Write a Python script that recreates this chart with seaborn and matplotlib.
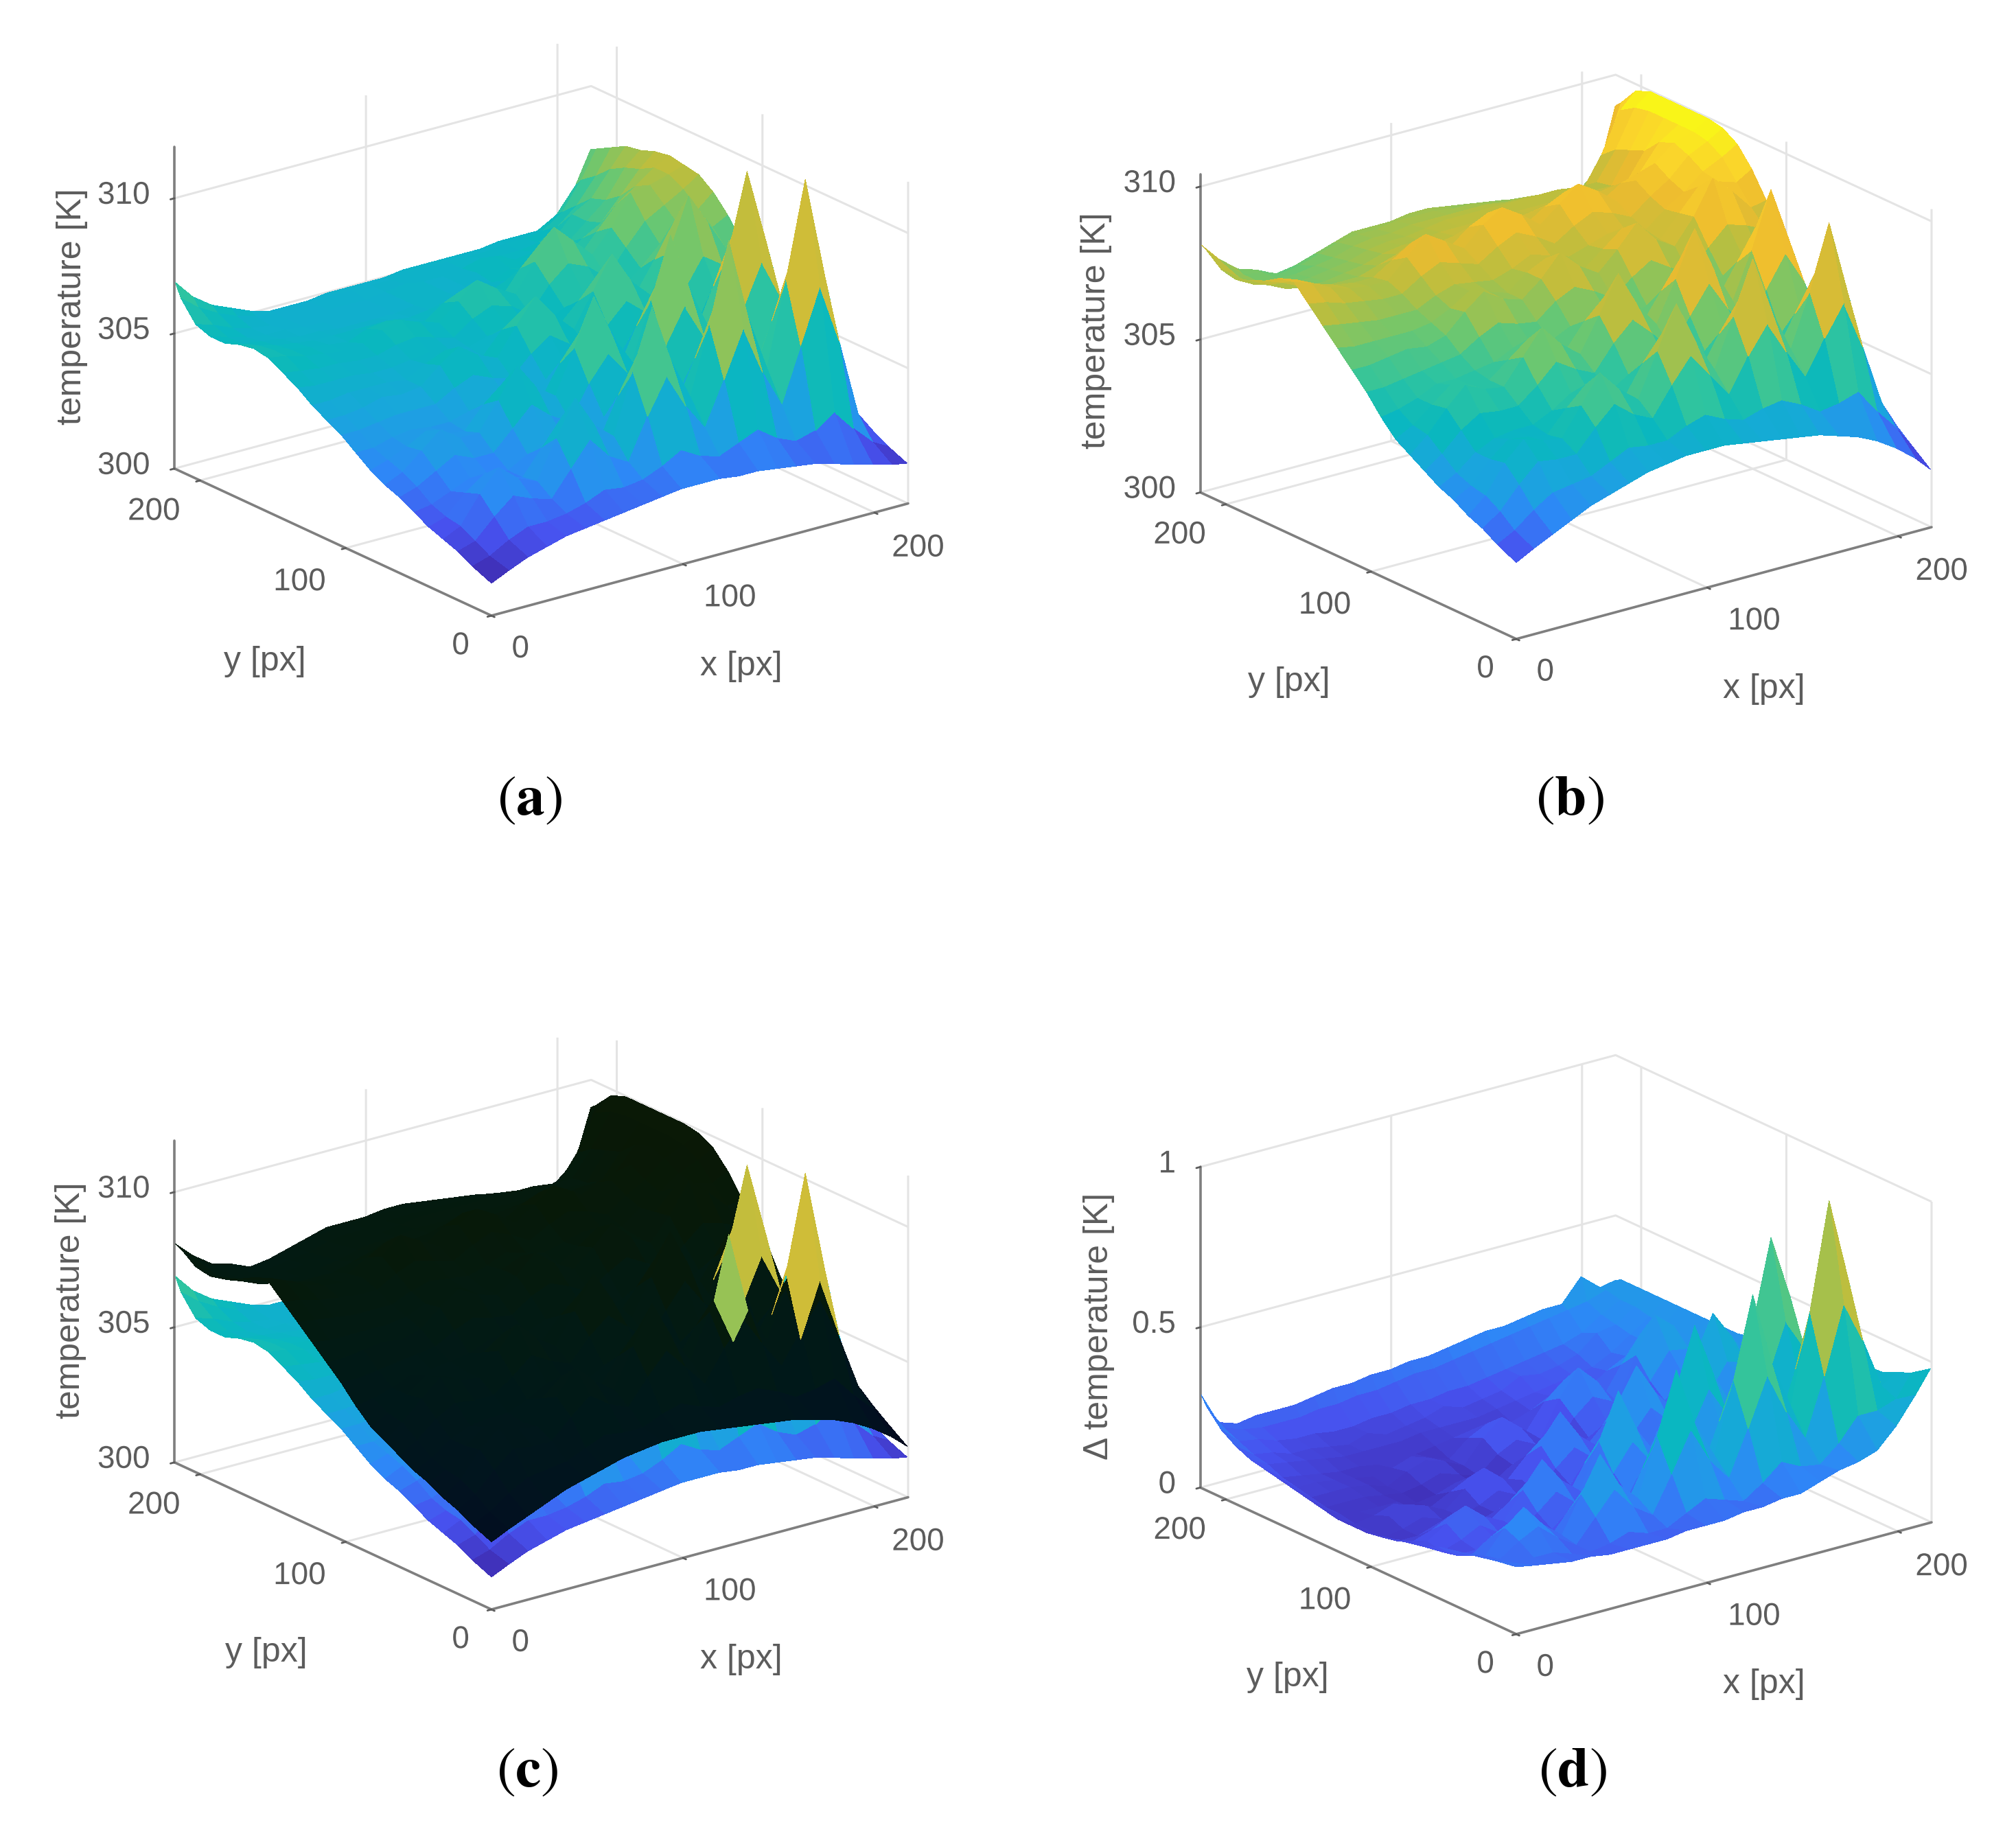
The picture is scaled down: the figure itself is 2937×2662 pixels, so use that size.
import numpy as np
import matplotlib
matplotlib.use("Agg")
import matplotlib.pyplot as plt
import matplotlib.patheffects as pe
from matplotlib.colors import Normalize
from mpl_toolkits.mplot3d import proj3d
import seaborn as sns

# grid nodes [px]
x_nodes = [0, 9, 19, 29, 39, 49, 59, 69, 79, 89, 99, 109, 119, 129, 139, 149, 159, 169, 179, 189, 199, 209, 217]
y_nodes = [0, 13, 23, 33, 43, 53, 63, 73, 83, 93, 103, 113, 123, 133, 143, 153, 163, 173, 183, 193, 203, 213, 217]

# panel (a): temperature above 300 K, in tenths of a kelvin, one row per y node
temp_a = [
    [12,15,18,20,22,23,24,25,26,27,28,28,28,27,27,26,25,24,22,20,18,16,15],
    [15,17,21,24,24,25,27,30,29,30,33,37,33,31,34,37,32,29,31,36,28,21,18],
    [18,20,27,33,30,28,37,46,38,34,49,62,49,39,55,72,54,40,60,80,58,29,21],
    [20,23,33,41,35,32,46,59,47,41,63,85,63,48,73,102,72,51,82,117,80,36,24],
    [22,24,31,36,33,31,40,49,41,37,52,65,52,42,58,75,58,44,64,84,63,35,28],
    [25,26,29,32,31,31,35,39,36,35,41,47,41,39,44,52,43,39,46,56,46,36,34],
    [28,30,34,38,35,35,42,49,43,39,51,60,51,42,57,70,57,46,63,79,64,43,38],
    [30,33,39,45,40,40,50,61,51,46,62,79,62,51,72,94,72,56,81,110,82,49,40],
    [33,35,38,42,39,38,46,52,46,42,54,63,54,45,60,73,60,50,67,84,70,51,47],
    [37,37,39,40,39,39,41,44,42,41,45,49,46,44,48,53,49,46,52,60,55,51,52],
    [41,41,42,43,43,43,47,50,47,45,52,57,52,48,55,62,56,50,60,71,66,60,62],
    [44,44,45,47,46,47,53,58,53,50,60,69,60,53,65,77,65,58,72,91,79,67,68],
    [47,47,48,48,48,47,51,54,51,48,56,61,56,52,59,67,61,56,67,79,76,73,76],
    [51,50,50,50,49,49,50,51,50,49,51,53,52,50,54,58,56,55,61,68,73,77,82],
    [54,53,52,52,51,51,53,54,52,50,55,58,56,51,60,66,63,57,66,74,78,82,86],
    [57,56,54,53,52,53,56,58,55,53,59,65,60,56,66,77,70,63,71,82,83,85,87],
    [58,56,54,53,52,51,54,55,53,51,56,59,57,52,61,68,65,59,67,75,80,85,88],
    [57,55,53,52,51,51,51,51,51,50,51,52,51,51,54,56,57,57,62,66,74,82,87],
    [55,53,52,51,50,50,49,49,49,49,50,51,50,50,51,54,53,55,58,64,70,80,85],
    [55,53,51,50,50,49,49,49,49,49,50,53,50,50,52,56,53,54,56,64,68,77,84],
    [57,55,52,50,49,49,49,49,49,49,50,51,50,50,51,53,52,52,53,57,63,72,81],
    [64,59,55,52,50,49,49,49,50,50,50,50,51,51,51,51,51,52,52,53,58,68,78],
    [69,62,57,54,51,49,49,49,50,50,50,50,51,51,51,51,51,52,52,52,56,65,77],
]

# panel (b): same units
temp_b = [
    [25,28,31,34,37,39,41,43,44,45,45,45,44,43,42,41,40,38,36,33,29,24,19],
    [28,31,36,40,41,42,45,48,47,47,50,52,49,47,49,50,47,43,44,46,38,31,24],
    [31,35,42,48,47,47,54,60,55,52,61,69,61,53,64,73,62,52,63,73,57,37,28],
    [33,38,47,53,51,50,59,68,61,56,70,84,70,59,75,92,73,59,76,97,72,44,32],
    [36,39,46,51,50,49,56,62,58,54,64,72,64,56,67,76,66,56,67,78,64,45,37],
    [38,41,46,49,50,50,53,57,55,54,58,62,58,55,59,64,58,54,58,64,56,47,41],
    [41,45,51,55,54,54,59,65,61,58,66,72,66,59,68,77,67,60,70,80,69,53,45],
    [44,49,56,62,59,58,66,74,67,62,73,85,73,65,78,93,78,66,81,99,80,57,48],
    [47,50,55,60,58,58,63,68,64,61,69,75,69,63,72,81,72,65,75,85,75,62,56],
    [52,53,55,58,58,59,60,63,62,62,65,67,65,63,65,69,65,65,68,73,71,67,65],
    [58,58,59,60,61,62,66,69,67,66,71,74,71,67,72,76,72,68,75,81,79,76,75],
    [63,63,64,65,64,66,72,77,73,71,76,83,77,73,79,86,79,75,83,94,88,81,82],
    [68,67,67,67,67,68,71,75,73,71,76,79,76,72,77,82,78,75,82,89,89,87,90],
    [73,72,71,70,70,70,73,75,74,73,75,78,76,74,76,78,77,76,81,85,90,93,96],
    [78,77,75,74,73,73,77,80,78,76,80,83,80,76,80,83,81,78,83,87,93,96,99],
    [83,81,78,76,75,75,81,87,83,79,85,89,85,80,85,90,86,81,86,90,95,97,100],
    [82,80,77,75,74,74,78,82,80,77,82,85,82,78,82,85,82,79,83,85,93,97,100],
    [79,77,74,72,72,72,74,76,77,76,77,79,78,77,78,79,78,78,79,79,88,97,100],
    [77,74,71,70,70,71,72,74,75,75,76,76,76,76,76,76,76,76,76,76,86,97,100],
    [75,72,70,69,69,70,71,73,74,74,75,76,76,76,76,76,76,76,75,75,84,96,100],
    [76,72,69,68,68,69,70,72,73,73,74,74,74,74,74,73,73,72,71,70,80,93,98],
    [80,74,69,68,66,67,69,71,72,72,73,73,73,72,72,71,70,68,66,65,68,78,92],
    [81,75,70,68,65,66,68,70,72,72,72,73,73,72,71,70,69,67,65,64,66,72,90],
]

# panel (d): temperature difference, in hundredths of a kelvin
delta_d = [
    [21,20,19,18,18,17,17,17,17,18,18,18,19,19,20,20,22,24,25,27,33,41,48],
    [20,18,18,18,16,15,16,18,16,16,19,22,20,18,22,27,24,23,28,35,35,37,44],
    [19,17,21,24,19,15,22,29,22,18,29,41,30,23,37,52,39,29,47,68,55,39,42],
    [18,16,23,28,21,16,27,38,27,21,39,58,39,28,50,75,52,37,65,98,72,43,40],
    [17,14,18,21,16,12,19,26,19,15,27,38,27,20,35,50,37,26,45,65,51,35,38],
    [16,12,12,14,11,10,12,15,12,11,16,20,16,14,20,27,22,19,26,37,33,31,36],
    [14,11,13,16,12,11,15,20,15,11,21,29,21,15,27,39,29,22,37,54,44,32,35],
    [13,12,16,20,15,12,20,28,20,15,29,43,29,20,38,57,40,28,51,78,58,35,34],
    [12,10,12,15,11,10,14,19,14,10,20,28,20,14,26,38,28,21,36,53,43,31,33],
    [11,8,8,10,8,7,9,11,9,8,11,15,12,11,14,19,16,14,20,28,26,27,33],
    [10,7,8,10,8,7,9,12,9,8,14,19,14,11,18,25,19,16,24,33,31,28,32],
    [10,7,10,12,10,7,12,17,12,10,19,28,19,14,24,36,26,19,31,46,37,28,32],
    [10,7,8,10,7,6,9,12,9,8,14,19,14,11,17,25,19,15,24,33,30,27,32],
    [11,8,7,7,7,5,6,8,6,5,9,11,9,8,11,14,13,11,16,22,22,25,31],
    [12,8,8,8,7,6,7,9,7,5,10,13,10,7,15,20,17,12,20,28,27,26,31],
    [13,9,9,9,8,6,9,11,9,6,13,18,13,8,19,27,21,13,26,37,32,26,31],
    [14,10,10,9,8,7,8,10,8,6,11,14,11,8,16,21,18,12,21,29,28,25,31],
    [15,11,10,9,8,8,7,8,7,8,9,10,9,9,11,14,13,13,17,20,23,26,31],
    [16,13,12,11,10,9,9,9,9,10,10,10,10,11,12,13,14,15,16,19,23,27,31],
    [18,14,13,11,11,10,9,11,9,10,11,13,11,12,13,16,15,16,18,23,24,28,31],
    [21,16,15,13,12,12,11,11,12,12,13,13,14,14,15,16,17,18,19,21,25,28,31],
    [26,18,16,15,15,15,16,16,17,17,18,19,19,20,21,22,23,24,25,26,27,29,31],
    [29,19,17,18,18,18,19,20,20,21,21,22,22,23,24,25,25,26,27,27,34,29,30],
]

temp_ticks = [300, 305, 310]
delta_ticks = [0, 0.5, 1]
delta_ticklabels = ["0", "0.5", "1"]
xy_ticks = [0, 100, 200]
parula_stops = ["#3E26A8", "#4752EF", "#2E87F7", "#1AA5DE", "#09B8BE", "#2EC4A0",
                "#6DC76F", "#BABE3F", "#EDBB2F", "#FAD42B", "#F9FB15"]
x_label_pad = [29, 47, 45]
y_label_pad = [25, 41, 41]
z_label_pad = -2
x_label_nudge = [(2, -9), (7, 11), (5, 7)]
y_label_nudge = [(1, -13), (1, 0), (1, 3)]
z_label_nudge = (-15, -13.5)

sns.set_theme(style="white", rc={"grid.color": "#e4e4e4", "grid.linewidth": 2.2,
                                 "axes3d.grid": True, "mathtext.fontset": "stix"})
plt.rcParams["font.family"] = ["Liberation Sans", "DejaVu Sans"]
parula = sns.blend_palette(parula_stops, n_colors=256, as_cmap=True)

W, H = 2937, 2662
DARK = "#5c5c5c"
fig = plt.figure(figsize=(W / 100, H / 100), dpi=100, facecolor="white")

X, Y = np.meshgrid(np.array(x_nodes, float), np.array(y_nodes, float))
Za = 300 + np.array(temp_a, float) / 10
Zb = 300 + np.array(temp_b, float) / 10
Zd = np.array(delta_d, float) / 100


def cell_mean(Z):
    return (Z[:-1, :-1] + Z[1:, :-1] + Z[:-1, 1:] + Z[1:, 1:]) / 4


def cell_level(Z):
    stack = np.stack([Z[:-1, :-1], Z[1:, :-1], Z[:-1, 1:], Z[1:, 1:]])
    return stack.mean(axis=0) + 0.15 * (stack.max(axis=0) - stack.mean(axis=0))


def nudge(label, offset):
    label.set_path_effects([pe.Stroke(linewidth=0, offset=offset)])


def make_axes(zlim, zticks, zlabels, box_z, front, right):
    ax = fig.add_axes([0.1, 0.1, 1500 / W, 1500 / H], projection="3d", proj_type="ortho")
    ax.set_facecolor("none")
    ax.view_init(elev=20.7, azim=-127.3)
    ax.set_xlim(0, 217.6, view_margin=0)
    ax.set_ylim(0, 217.6, view_margin=0)
    ax.set_zlim(*zlim, view_margin=0)
    ax.set_box_aspect((763, 762, box_z))
    ax.set_xticks(xy_ticks)
    ax.set_yticks(xy_ticks)
    ax.set_zticks(zticks)
    ax.set_zticklabels(zlabels)
    for axis in (ax.xaxis, ax.yaxis, ax.zaxis):
        axis.set_pane_color((1, 1, 1, 0))
        axis.pane.set_edgecolor((1, 1, 1, 0))
        axis.line.set_color("#7f7f7f")
        axis.line.set_linewidth(2.6)
        axis._axinfo["tick"].update(inward_factor=0.12, outward_factor=0.0)
        axis._axinfo["tick"]["linewidth"] = {True: 2.0, False: 1.0}
        axis._axinfo["tick"]["color"] = "#7f7f7f"
    ax.tick_params(axis="both", labelsize=33, labelcolor=DARK, colors=DARK, pad=18)
    ax.zaxis.set_ticks_position("upper")
    for tick, pad, off in zip(ax.xaxis.get_major_ticks(), x_label_pad, x_label_nudge):
        tick.set_pad(pad)
        tick.label1.set_va("bottom")
        nudge(tick.label1, off)
    for tick, pad, off in zip(ax.yaxis.get_major_ticks(), y_label_pad, y_label_nudge):
        tick.set_pad(pad)
        tick.label1.set_va("bottom")
        nudge(tick.label1, off)
    for tick in ax.zaxis.get_major_ticks():
        tick.set_pad(z_label_pad)
        tick.label1.set_va("bottom")
        tick.label1.set_ha("right")
        nudge(tick.label1, z_label_nudge)
    for step in ("scale", "shift"):
        fig.canvas.draw()
        M = ax.get_proj()
        pts = []
        for p in [(0, 0, zlim[0]), (217.6, 0, zlim[0])]:
            u, v, _ = proj3d.proj_transform(*p, M)
            pts.append(ax.transData.transform((u, v)))
        pos = ax.get_position(original=True)
        if step == "scale":
            k = (right[0] - front[0]) / (pts[1][0] - pts[0][0])
            ax.set_position([pos.x0, pos.y0, pos.width * k, pos.height * k])
        else:
            dx = front[0] - pts[0][0]
            dy = (H - front[1]) - pts[0][1]
            ax.set_position([pos.x0 + dx / W, pos.y0 + dy / H, pos.width, pos.height])
    return ax


def surface(ax, Z, norm, zorder=1, mask=None, tint=None):
    rgba = parula(norm(cell_level(Z)))
    if tint is not None:
        rgba[..., :3] *= tint
    if mask is not None:
        rgba[..., 3] = np.where(mask, 1.0, 0.0)
    return ax.plot_surface(X, Y, Z, rcount=len(y_nodes), ccount=len(x_nodes), facecolors=rgba,
                           shade=False, linewidth=0, antialiased=False, zorder=zorder)


def labels(zlabel, zpos, ypos, xpos, tag, tagpos):
    fig.text(zpos[0] / W, 1 - zpos[1] / H, zlabel, rotation=90, ha="center", va="center", fontsize=36, color=DARK)
    fig.text(ypos[0] / W, 1 - ypos[1] / H, "y [px]", ha="center", va="center", fontsize=36, color=DARK)
    fig.text(xpos[0] / W, 1 - xpos[1] / H, "x [px]", ha="center", va="center", fontsize=36, color=DARK)
    fig.text(tagpos[0] / W, 1 - tagpos[1] / H, tag, ha="center", va="center", fontsize=60, color="black")


norm_a = Normalize(Za.min(), Za.max())
norm_b = Normalize(Zb.min(), Zb.max())
norm_d = Normalize(0.03, 1.08)

temp_labels = [str(t) for t in temp_ticks]

ax_a = make_axes((300, 311.9), temp_ticks, temp_labels, 501, (716, 897), (1323, 733))
surface(ax_a, Za, norm_a)
labels("temperature [K]", (105, 447), (386, 964), (1080, 971), r"$(\mathbf{a})$", (772, 1165))

ax_b = make_axes((300, 310.4), temp_ticks, temp_labels, 497, (2209, 931), (2814, 766))
surface(ax_b, Zb, norm_b)
labels("temperature [K]", (1597, 482), (1878, 994), (2570, 1004), r"$(\mathbf{b})$", (2287, 1165))

ax_c = make_axes((300, 311.9), temp_ticks, temp_labels, 501, (716, 2345), (1323, 2180))
ax_c.computed_zorder = False
surface(ax_c, Za, norm_a, zorder=1)
surface(ax_c, Zb, norm_a, zorder=2, tint=(0.04, 0.13, 0.13))
surface(ax_c, Za, norm_a, zorder=3, mask=cell_mean(Za) > cell_mean(Zb))
labels("temperature [K]", (103, 1895), (388, 2408), (1080, 2418), r"$(\mathbf{c})$", (768, 2581))

ax_d = make_axes((0, 1), delta_ticks, delta_ticklabels, 501, (2209, 2381), (2814, 2215))
surface(ax_d, Zd, norm_d)
labels("\u0394 temperature [K]", (1601, 1932), (1876, 2444), (2570, 2454), r"$(\mathbf{d})$", (2291, 2581))

fig.savefig("out.png", dpi=100, facecolor="white")
